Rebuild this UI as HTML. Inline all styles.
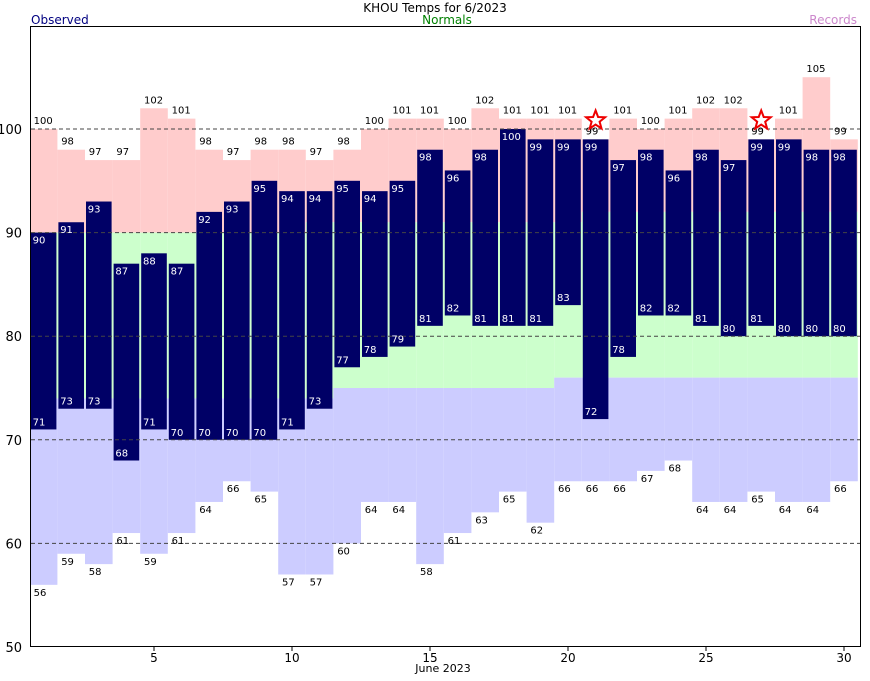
<!DOCTYPE html>
<html><head><meta charset="utf-8"><style>
body{margin:0;background:#fff;font-family:"Liberation Sans",sans-serif;}
svg text{font-family:"DejaVu Sans","Liberation Sans",sans-serif;}
</style></head><body>
<svg id="c" width="870" height="676" xmlns="http://www.w3.org/2000/svg">
<defs><clipPath id="pc"><rect x="31" y="27" width="829" height="619"/></clipPath></defs>
<text x="435" y="12" font-size="12" text-anchor="middle">KHOU Temps for 6/2023</text>
<text x="31" y="24" font-size="12" fill="#000080">Observed</text>
<text x="447" y="24" font-size="12" fill="#008000" text-anchor="middle">Normals</text>
<text x="857" y="24" font-size="12" fill="#cc88cc" text-anchor="end">Records</text>
<g id="plot"></g>
<rect x="30.5" y="26.5" width="830" height="620" fill="none" stroke="#000"/>
</svg>
<script>
const days=[1,2,3,4,5,6,7,8,9,10,11,12,13,14,15,16,17,18,19,20,21,22,23,24,25,26,27,28,29,30];
const recHigh=[100,98,97,97,102,101,98,97,98,98,97,98,100,101,101,100,102,101,101,101,99,101,100,101,102,102,99,101,105,99];
const recLow=[56,59,58,61,59,61,64,66,65,57,57,60,64,64,58,61,63,65,62,66,66,66,67,68,64,64,65,64,64,66];
const normHigh=[90,90,90,90,90,90,90,90,90,90,91,91,91,91,91,91,91,91,91,91,92,92,92,92,92,92,92,92,92,92];
const normLow=[74,74,74,74,74,74,74,74,74,74,74,75,75,75,75,75,75,75,75,76,76,76,76,76,76,76,76,76,76,76];
const obsHigh=[90,91,93,87,88,87,92,93,95,94,94,95,94,95,98,96,98,100,99,99,99,97,98,96,98,97,99,99,98,98];
const obsLow=[71,73,73,68,71,70,70,70,70,71,73,77,78,79,81,82,81,81,81,83,72,78,82,82,81,80,81,80,80,80];
const yTicks=[50,60,70,80,90,100];
const xTicks=[5,10,15,20,25,30];
const DW=27.6;
const X=d=>154+(d-5)*DW;
const Y=v=>129+(100-v)*10.36;
const g=document.getElementById('plot');
const NS='http://www.w3.org/2000/svg';
function mk(t,a){const e=document.createElementNS(NS,t);for(const k in a)e.setAttribute(k,a[k]);g.appendChild(e);return e;}
function band(arrTop,arrBot,fill,name){
 days.forEach((d,i)=>{
  const x0=Math.max(30,X(d)-DW/2),x1=Math.min(861,X(d)+DW/2);
  const r=mk('rect',{x:x0,y:Y(arrTop[i]),width:x1-x0,height:Y(arrBot[i])-Y(arrTop[i]),fill:fill});
  
  
 });
}
band(recHigh,normHigh,'#ffcccc','record-high-band');
band(normHigh,normLow,'#ccffcc','normal-band');
band(normLow,recLow,'#ccccff','record-low-band');
days.forEach((d,i)=>{
 const b=mk('rect',{x:X(d)-12.8,y:Y(obsHigh[i]),width:25.6,height:Y(obsLow[i])-Y(obsHigh[i]),fill:'#000066','clip-path':'url(#pc)'});
 
 
});
yTicks.forEach(v=>{
 if(v>50){const l=mk('line',{x1:31,x2:860,y1:Y(v),y2:Y(v),stroke:'#444','stroke-dasharray':'4,3'});
 
 }
 const t=mk('text',{x:22,y:Y(v)+5,'font-size':13,'text-anchor':'end'});t.textContent=v;
 
 
});
xTicks.forEach(d=>{
 const l=mk('line',{x1:X(d),x2:X(d),y1:647,y2:651,stroke:'#000'});
 
 
 const t=mk('text',{x:X(d),y:662,'font-size':12,'text-anchor':'middle'});t.textContent=d;
 
 
});
const xt=mk('text',{x:443,y:672,'font-size':11,'text-anchor':'middle'});xt.textContent='June 2023';


days.forEach((d,i)=>{
 const th=mk('text',{x:X(d)-11,y:Y(obsHigh[i])+11,'font-size':10,fill:'#fff'});th.textContent=obsHigh[i];
 
 
 const tl=mk('text',{x:X(d)-11,y:Y(obsLow[i])-4,'font-size':10,fill:'#fff'});tl.textContent=obsLow[i];
 
 
 const rh=mk('text',{x:X(d)-10,y:Y(recHigh[i])-5,'font-size':10,fill:'#000'});rh.textContent=recHigh[i];
 
 
 const rl=mk('text',{x:X(d)-10,y:Y(recLow[i])+11,'font-size':10,fill:'#000'});rl.textContent=recLow[i];
 
 
 if(obsHigh[i]>=recHigh[i]){
  const cx=X(d),cy=Y(recHigh[i])-19,R=10,r=4.2;let p='';
  for(let k=0;k<10;k++){const a=-Math.PI/2+k*Math.PI/5,rr=k%2?r:R;p+=(cx+rr*Math.cos(a)).toFixed(1)+','+(cy+rr*Math.sin(a)).toFixed(1)+' ';}
  const s=mk('polygon',{points:p,fill:'#fff',stroke:'#ee0000','stroke-width':2});
  
  
 }
});
</script>
</body></html>
